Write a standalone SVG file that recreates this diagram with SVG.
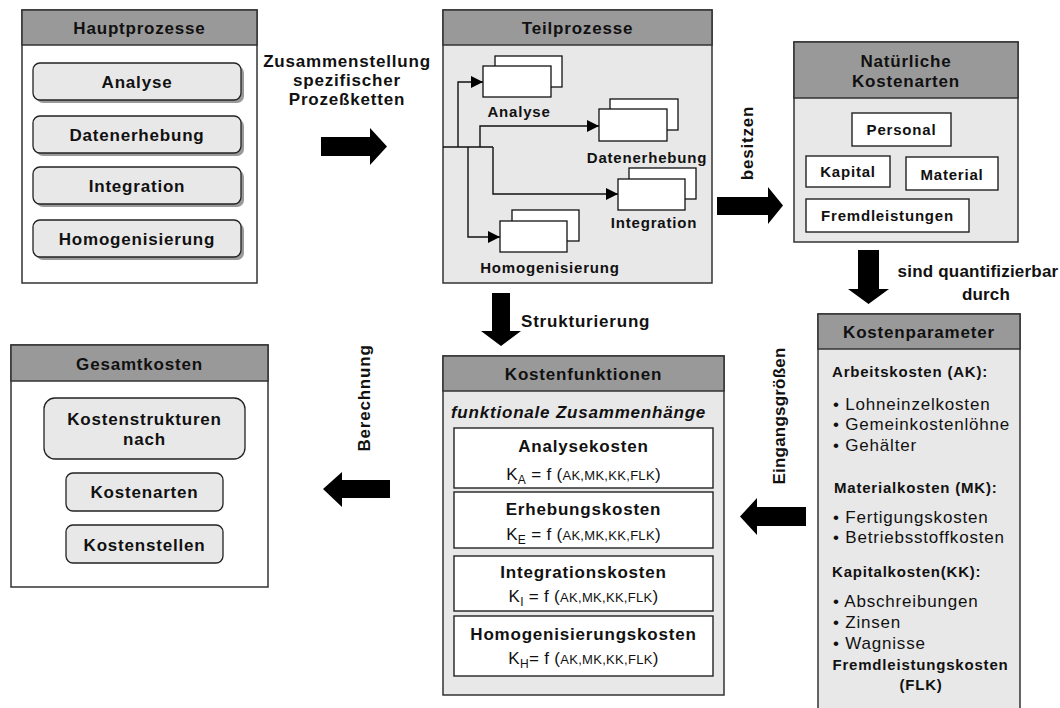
<svg xmlns="http://www.w3.org/2000/svg" width="1060" height="708" viewBox="0 0 1060 708">
  <defs>
    <style>
      text { font-family: "Liberation Sans", Arial, sans-serif; fill: #111; letter-spacing: 0.8px; }
      .b17 { font-size: 17px; font-weight: bold; }
      .b15 { font-size: 15px; font-weight: bold; }
      .r17 { font-size: 17px; }
      .mid { text-anchor: middle; }
      .tight { letter-spacing: 0.2px; }
      .frame { stroke: #333; stroke-width: 1.5; }
      .white { fill: #ffffff; }
      .light { fill: #e8e8e8; }
      .head { fill: #999999; stroke: #333; stroke-width: 1.5; }
      .pill { fill: #e8e8e8; stroke: #222; stroke-width: 1.3; }
      .shadow { fill: #9a9a9a; }
      .card { fill: #ffffff; stroke: #222; stroke-width: 1.4; }
      .proc { fill: #ffffff; stroke: #111; stroke-width: 1.3; }
      .wire { fill: none; stroke: #111; stroke-width: 1.4; }
      .fat { fill: #000; }
      .formula { font-size: 17px; letter-spacing: 0.3px; }
    </style>
    <marker id="tri" viewBox="0 0 12 12" refX="12" refY="6" markerWidth="12" markerHeight="12" markerUnits="userSpaceOnUse" orient="auto">
      <path d="M0,0 L12,6 L0,12 Z" fill="#000"/>
    </marker>
  </defs>

  <!-- Hauptprozesse -->
  <g id="hauptprozesse">
    <rect x="22" y="10" width="235" height="273" class="frame white"/>
    <rect x="22" y="10" width="235" height="35" class="head"/>
    <text x="139.5" y="34" class="b17 mid">Hauptprozesse</text>
    <rect x="36" y="66" width="208" height="37" rx="7" class="shadow"/>
    <rect x="33" y="63" width="208" height="37" rx="7" class="pill"/>
    <text x="137" y="88" class="b17 mid">Analyse</text>
    <rect x="36" y="119" width="208" height="37" rx="7" class="shadow"/>
    <rect x="33" y="116" width="208" height="37" rx="7" class="pill"/>
    <text x="137" y="141" class="b17 mid">Datenerhebung</text>
    <rect x="36" y="170" width="208" height="37" rx="7" class="shadow"/>
    <rect x="33" y="167" width="208" height="37" rx="7" class="pill"/>
    <text x="137" y="192" class="b17 mid">Integration</text>
    <rect x="36" y="223" width="208" height="37" rx="7" class="shadow"/>
    <rect x="33" y="220" width="208" height="37" rx="7" class="pill"/>
    <text x="137" y="245" class="b17 mid">Homogenisierung</text>
  </g>

  <!-- Teilprozesse -->
  <g id="teilprozesse">
    <rect x="443" y="10" width="269" height="273" class="frame light"/>
    <rect x="443" y="10" width="269" height="35" class="head"/>
    <text x="577.5" y="34" class="b17 mid">Teilprozesse</text>
    <rect x="495" y="56" width="67" height="31" class="proc"/>
    <rect x="483" y="66" width="68" height="31" class="proc"/>
    <text x="519" y="117" class="b15 mid">Analyse</text>
    <rect x="610" y="99" width="68" height="31" class="proc"/>
    <rect x="599" y="109" width="68" height="32" class="proc"/>
    <text x="647" y="163" class="b15 mid">Datenerhebung</text>
    <rect x="629" y="168" width="67" height="31" class="proc"/>
    <rect x="618" y="179" width="67" height="31" class="proc"/>
    <text x="654" y="228" class="b15 mid">Integration</text>
    <rect x="512" y="210" width="67" height="31" class="proc"/>
    <rect x="500" y="221" width="67" height="31" class="proc"/>
    <text x="550" y="273" class="b15 mid">Homogenisierung</text>
  </g>

  <!-- Natürliche Kostenarten -->
  <g id="kostenarten">
    <rect x="794" y="42" width="224" height="200" class="frame light"/>
    <rect x="794" y="42" width="224" height="56" class="head"/>
    <text x="906" y="67" class="b17 mid">Natürliche</text>
    <text x="906" y="87" class="b17 mid">Kostenarten</text>
    <rect x="852" y="113" width="99" height="33" class="card"/>
    <text x="901.5" y="135" class="b15 mid">Personal</text>
    <rect x="806" y="156" width="84" height="31" class="card"/>
    <text x="848" y="177" class="b15 mid">Kapital</text>
    <rect x="906" y="157" width="92" height="33" class="card"/>
    <text x="952" y="180" class="b15 mid">Material</text>
    <rect x="806" y="199" width="163" height="33" class="card"/>
    <text x="887.5" y="221" class="b15 mid">Fremdleistungen</text>
  </g>

  <!-- Kostenparameter -->
  <g id="kostenparameter">
    <rect x="818" y="314" width="202" height="410" class="frame light"/>
    <rect x="818" y="314" width="202" height="35" class="head"/>
    <text x="919" y="338" class="b17 mid">Kostenparameter</text>
    <text x="832" y="377" class="b15">Arbeitskosten (AK):</text>
    <text x="833" y="410" class="r17">• Lohneinzelkosten</text>
    <text x="833" y="430" class="r17">• Gemeinkostenlöhne</text>
    <text x="833" y="451" class="r17">• Gehälter</text>
    <text x="834" y="493" class="b15">Materialkosten (MK):</text>
    <text x="833" y="523" class="r17">• Fertigungskosten</text>
    <text x="833" y="543" class="r17">• Betriebsstoffkosten</text>
    <text x="832" y="577" class="b15">Kapitalkosten(KK):</text>
    <text x="833" y="607" class="r17">• Abschreibungen</text>
    <text x="833" y="628" class="r17">• Zinsen</text>
    <text x="833" y="649" class="r17">• Wagnisse</text>
    <text x="920.5" y="670" class="b15 mid">Fremdleistungskosten</text>
    <text x="921" y="690" class="b15 mid">(FLK)</text>
  </g>

  <!-- Kostenfunktionen -->
  <g id="kostenfunktionen">
    <rect x="443" y="356" width="281" height="339" class="frame light"/>
    <rect x="443" y="356" width="281" height="35" class="head"/>
    <text x="583.5" y="380" class="b17 mid">Kostenfunktionen</text>
    <text x="578.5" y="418" class="b17 mid" font-style="italic">funktionale Zusammenhänge</text>
    <rect x="454" y="428" width="259" height="60" class="card"/>
    <text x="583.5" y="452" class="b17 mid">Analysekosten</text>
    <text x="583.5" y="480" class="formula mid">K<tspan dy="4" font-size="12">A</tspan><tspan dy="-4"> = f (</tspan><tspan font-size="13">AK,MK,KK,FLK</tspan>)</text>
    <rect x="454" y="492" width="259" height="56" class="card"/>
    <text x="583.5" y="515" class="b17 mid">Erhebungskosten</text>
    <text x="583.5" y="540" class="formula mid">K<tspan dy="4" font-size="12">E</tspan><tspan dy="-4"> = f (</tspan><tspan font-size="13">AK,MK,KK,FLK</tspan>)</text>
    <rect x="454" y="556" width="259" height="55" class="card"/>
    <text x="583.5" y="578" class="b17 mid">Integrationskosten</text>
    <text x="583.5" y="602" class="formula mid">K<tspan dy="4" font-size="12">I</tspan><tspan dy="-4"> = f (</tspan><tspan font-size="13">AK,MK,KK,FLK</tspan>)</text>
    <rect x="454" y="616" width="259" height="60" class="card"/>
    <text x="583.5" y="640" class="b17 mid">Homogenisierungskosten</text>
    <text x="583.5" y="664" class="formula mid">K<tspan dy="4" font-size="12">H</tspan><tspan dy="-4">= f (</tspan><tspan font-size="13">AK,MK,KK,FLK</tspan>)</text>
  </g>

  <!-- Gesamtkosten -->
  <g id="gesamtkosten">
    <rect x="11" y="345" width="257" height="242" class="frame white"/>
    <rect x="11" y="345" width="257" height="36" class="head"/>
    <text x="139.5" y="370" class="b17 mid">Gesamtkosten</text>
    <rect x="44" y="398" width="201" height="61" rx="11" class="pill"/>
    <text x="144.5" y="425" class="b17 mid">Kostenstrukturen</text>
    <text x="144.5" y="445" class="b17 mid">nach</text>
    <rect x="66" y="473" width="157" height="38" rx="7" class="pill"/>
    <text x="144.5" y="498" class="b17 mid">Kostenarten</text>
    <rect x="66" y="525" width="157" height="38" rx="7" class="pill"/>
    <text x="144.5" y="551" class="b17 mid">Kostenstellen</text>
  </g>

  <!-- Connectors -->
  <g id="connectors">
    <!-- branching inside Teilprozesse -->
    <path d="M443,147 H493" class="wire"/>
    <path d="M458,147 V82 H483" class="wire" marker-end="url(#tri)"/>
    <path d="M480,147 V126 H599" class="wire" marker-end="url(#tri)"/>
    <path d="M493,147 V194 H618" class="wire" marker-end="url(#tri)"/>
    <path d="M468,147 V237 H500" class="wire" marker-end="url(#tri)"/>

    <!-- block arrows between the panels -->
    <polygon points="321,137 370,137 370,128 387,146.5 370,165 370,156 321,156" class="fat"/>
    <text x="347" y="67" class="b17 mid">Zusammenstellung</text>
    <text x="347" y="86" class="b17 mid">spezifischer</text>
    <text x="347" y="105" class="b17 mid">Prozeßketten</text>

    <polygon points="717,197 768,197 768,187 783,205.5 768,224 768,215 717,215" class="fat"/>
    <text transform="translate(753,143) rotate(-90)" class="b17 mid">besitzen</text>

    <polygon points="858,250 879,250 879,289 889,289 868.5,304 848,289 858,289" class="fat"/>
    <text x="978" y="277" class="b17 mid tight">sind quantifizierbar</text>
    <text x="986" y="300" class="b17 mid tight">durch</text>

    <polygon points="492,293 510,293 510,331 521,331 501,346 481,331 492,331" class="fat"/>
    <text x="521" y="327" class="b17">Strukturierung</text>

    <polygon points="806,507 757,507 757,498 740,516.5 757,535 757,526 806,526" class="fat"/>
    <text transform="translate(785,416) rotate(-90)" class="b17 mid tight">Eingangsgrößen</text>

    <polygon points="390,480 342,480 342,472 323,489 342,507 342,498 390,498" class="fat"/>
    <text transform="translate(370,398) rotate(-90)" class="b17 mid">Berechnung</text>
  </g>
</svg>
